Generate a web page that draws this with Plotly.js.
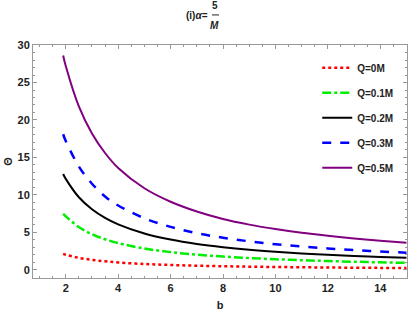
<!DOCTYPE html>
<html>
<head>
<meta charset="utf-8">
<script src="https://cdn.plot.ly/plotly-3.0.1.min.js"></script>
<style>html,body{margin:0;padding:0;background:#fff}#chart{width:415px;height:311px}</style>
</head>
<body>
<div id="chart"></div>
<script>
// impact parameter b
const b = [1.9, 2, 2.5, 3, 3.5, 4, 5, 6, 7, 8, 9, 10, 11, 12, 13, 14, 15];
// deflection angle readings for each charge
const theta_Q0   = [2.15, 2.03, 1.62, 1.35, 1.15, 1.0, 0.8, 0.67, 0.57, 0.5, 0.44, 0.4, 0.36, 0.33, 0.3, 0.28, 0.26];
const theta_Q01  = [7.5, 7.15, 5.72, 4.77, 4.09, 3.58, 2.86, 2.38, 2.04, 1.79, 1.59, 1.43, 1.3, 1.19, 1.1, 1.02, 0.95];
const theta_Q02  = [12.8, 12.15, 9.7, 8.1, 6.95, 6.08, 4.86, 4.05, 3.47, 3.04, 2.7, 2.43, 2.21, 2.03, 1.87, 1.74, 1.62];
const theta_Q03  = [18.1, 17.2, 13.8, 11.5, 9.8, 8.6, 6.9, 5.75, 4.9, 4.3, 3.82, 3.44, 3.13, 2.87, 2.65, 2.46, 2.3];
const theta_Q05  = [28.6, 27.2, 21.8, 18.2, 15.6, 13.6, 10.9, 9.1, 7.8, 6.8, 6.05, 5.45, 4.95, 4.55, 4.2, 3.9, 3.63];
const seriesNames = ["Q=0M", "Q=0.1M", "Q=0.2M", "Q=0.3M", "Q=0.5M"];
const xTicks = [2, 4, 6, 8, 10, 12, 14];
const yTicks = [0, 5, 10, 15, 20, 25, 30];

const styles = [
  {color: "#ff0000", dash: "dot", width: 2.5},
  {color: "#00ee00", dash: "dashdot", width: 2.5},
  {color: "#000000", dash: "solid", width: 2},
  {color: "#0000ff", dash: "dash", width: 2.5},
  {color: "#800080", dash: "solid", width: 2}
];
const ys = [theta_Q0, theta_Q01, theta_Q02, theta_Q03, theta_Q05];
const traces = ys.map((y, i) => ({
  x: b, y: y, type: "scatter", mode: "lines", name: seriesNames[i],
  line: {color: styles[i].color, dash: styles[i].dash, width: styles[i].width, shape: "spline", smoothing: 1},
  legendgroup: "g" + i
}));

const font = {family: "Liberation Sans, Arial, sans-serif", size: 11, color: "#222", weight: "bold"};
const axisCommon = {
  showline: true, linecolor: "#999", linewidth: 1, mirror: "allticks",
  ticks: "inside", ticklen: 4, tickcolor: "#999", showgrid: false, zeroline: false,
  tickfont: font
};
const layout = {
  width: 415, height: 311,
  margin: {l: 33, r: 8, t: 45, b: 33},
  paper_bgcolor: "#fff", plot_bgcolor: "#fff",
  font: font,
  showlegend: true,
  legend: {x: 0.76, y: 0.965, xanchor: "left", yanchor: "top", bgcolor: "rgba(0,0,0,0)",
           font: {family: "Liberation Sans, Arial, sans-serif", size: 10, color: "#222", weight: "bold"},
           tracegroupgap: 6, traceorder: "grouped"},
  xaxis: Object.assign({}, axisCommon, {
    range: [0.75, 15.02], tickvals: xTicks, ticktext: xTicks.map(String),
    minor: {dtick: 0.5, tick0: 0, ticks: "inside", ticklen: 2, tickcolor: "#999"},
    title: {text: "b", font: font, standoff: 11}
  }),
  yaxis: Object.assign({}, axisCommon, {
    range: [-1.07, 30], tickvals: yTicks, ticktext: yTicks.map(String),
    minor: {dtick: 1, tick0: 0, ticks: "inside", ticklen: 2, tickcolor: "#999"},
    title: {text: "Θ", font: font, standoff: 2}
  }),
  annotations: [
    {xref: "paper", yref: "paper", x: 0.473, y: 1.0, yshift: 30, xanchor: "right", yanchor: "middle", showarrow: false,
     text: "(i)<i>α</i>=", font: {family: "Liberation Sans, Arial, sans-serif", size: 10, color: "#222", weight: "bold"}},
    {xref: "paper", yref: "paper", x: 0.4856, y: 1.0, yshift: 40, xanchor: "center", yanchor: "middle", showarrow: false,
     text: "5", font: {family: "Liberation Sans, Arial, sans-serif", size: 10, color: "#222", weight: "bold"}},
    {xref: "paper", yref: "paper", x: 0.4856, y: 1.0, yshift: 20, xanchor: "center", yanchor: "middle", showarrow: false,
     text: "<i>M</i>", font: {family: "Liberation Sans, Arial, sans-serif", size: 10, color: "#222", weight: "bold"}}
  ],
  shapes: [
    {type: "line", xref: "paper", yref: "paper", x0: 0.4786, x1: 0.4973, y0: 1.129, y1: 1.129,
     line: {color: "#222", width: 1}}
  ]
};
Plotly.newPlot("chart", traces, layout, {displayModeBar: false, staticPlot: true});
</script>
</body>
</html>
